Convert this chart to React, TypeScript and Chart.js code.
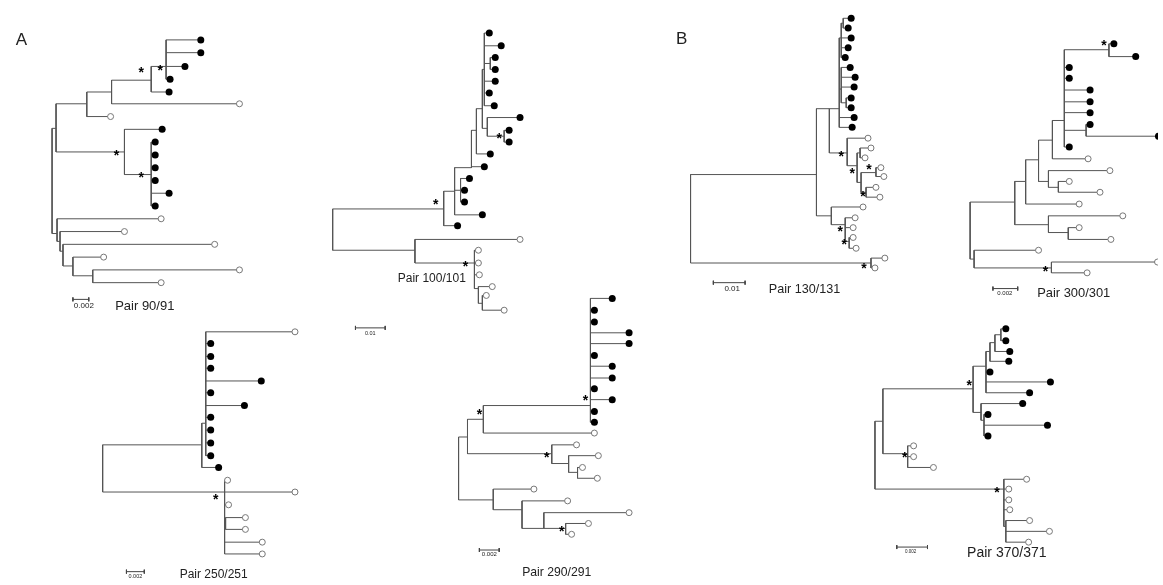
import { useEffect, useRef } from 'react';
import { Chart, registerables } from 'chart.js';
Chart.register(...registerables);

// Tree node: [x, y, children] for internal nodes, [x, y, 1|0] for leaves (1 = filled, 0 = open)
type TNode = [number, number, any];

const tree90: TNode = [47, 178, [
  [51, 125, [
    [82, 100, [
      [107, 88, [
        [147, 76, [
          [162, 62, [[197, 35, 1], [197, 48, 1], [181, 62, 1], [166, 75, 1]]],
          [165, 88, 1],
        ]],
        [236, 100, 0],
      ]],
      [106, 113, 0],
    ]],
    [120, 149, [
      [158, 126, 1],
      [147, 172, [[151, 139, 1], [151, 152, 1], [151, 165, 1], [151, 178, 1], [165, 191, 1], [151, 204, 1]]],
    ]],
  ]],
  [52, 232, [
    [157, 217, 0],
    [55, 240, [
      [120, 230, 0],
      [58, 250, [
        [211, 243, 0],
        [68, 265, [
          [99, 256, 0],
          [88, 275, [[236, 269, 0], [157, 282, 0]]],
        ]],
      ]],
    ]],
  ]],
]];

const tree100: TNode = [330, 228, [
  [442, 207, [
    [453, 189, [
      [470, 165, [
        [475, 127, [
          [481, 105, [
            [483, 65, [[488, 28, 1], [500, 41, 1], [489, 59, [[494, 53, 1], [494, 65, 1]]], [494, 77, 1], [488, 89, 1], [493, 102, 1]]],
            [486, 125, [[519, 114, 1], [503, 133, [[508, 127, 1], [508, 139, 1]]]]],
          ]],
          [489, 151, 1],
        ]],
        [483, 164, 1],
      ]],
      [459, 188, [[468, 176, 1], [463, 188, 1], [463, 200, 1]]],
      [481, 213, 1],
    ]],
    [456, 224, 1],
  ]],
  [413, 249, [
    [519, 238, 0],
    [473, 262, [
      [477, 249, 0], [477, 262, 0], [478, 274, 0],
      [477, 288, [[491, 286, 0], [481, 303, [[485, 295, 0], [503, 310, 0]]]]],
    ]],
  ]],
]];

const tree130: TNode = [691, 217, [
  [818, 172, [
    [831, 105, [
      [841, 105, [
        [843, 33, [[845, 18, [[853, 13, 1], [850, 23, 1]]], [853, 33, 1], [850, 43, 1], [847, 53, 1]]],
        [843, 85, [[852, 63, 1], [857, 73, 1], [856, 83, 1], [848, 99, [[853, 94, 1], [853, 104, 1]]]]],
        [856, 114, 1],
        [854, 124, 1],
      ]],
      [849, 150, [
        [870, 135, 0],
        [859, 163, [
          [862, 150, [[873, 145, 0], [867, 155, 0]]],
          [863, 180, [
            [878, 170, [[883, 165, 0], [886, 174, 0]]],
            [868, 190, [[878, 185, 0], [882, 195, 0]]],
          ]],
        ]],
      ]],
    ]],
    [833, 214, [
      [865, 205, 0],
      [847, 223, [
        [857, 216, 0],
        [855, 226, 0],
        [851, 240, [[855, 236, 0], [858, 247, 0]]],
      ]],
    ]],
  ]],
  [873, 262, [[887, 257, 0], [877, 267, 0]]],
]];

const tree300: TNode = [973, 229, [
  [1018, 200, [
    [1029, 179, [
      [1042, 157, [
        [1056, 137, [
          [1068, 117, [
            [1113, 45, [[1118, 39, 1], [1140, 52, 1]]],
            [1073, 63, 1], [1073, 74, 1], [1094, 86, 1], [1094, 98, 1], [1094, 109, 1],
            [1090, 127, [[1094, 121, 1], [1163, 133, 1]]],
            [1073, 144, 1],
          ]],
          [1092, 156, 0],
        ]],
        [1052, 179, [
          [1114, 168, 0],
          [1062, 185, [[1073, 179, 0], [1104, 190, 0]]],
        ]],
      ]],
      [1083, 202, 0],
    ]],
    [1052, 223, [
      [1127, 214, 0],
      [1072, 231, [[1083, 226, 0], [1115, 238, 0]]],
    ]],
  ]],
  [977, 258, [
    [1042, 249, 0],
    [1055, 267, [[1162, 261, 0], [1091, 272, 0]]],
  ]],
]];

const tree250: TNode = [98, 471, [
  [198, 447, [
    [202, 425, [
      [292, 332, 0], [207, 344, 1], [207, 357, 1], [207, 369, 1], [258, 382, 1], [207, 394, 1],
      [241, 407, 1], [207, 419, 1], [207, 432, 1], [207, 445, 1], [207, 458, 1],
    ]],
    [215, 470, 1],
  ]],
  [221, 495, [
    [224, 483, 0], [292, 495, 0], [225, 508, 0],
    [222, 527, [[242, 521, 0], [242, 533, 0]]],
    [259, 546, 0], [259, 558, 0],
  ]],
]];

const tree290: TNode = [457, 471, [
  [466, 439, [
    [482, 421, [
      [590, 407, [
        [612, 298, 1], [594, 310, 1], [594, 322, 1], [629, 333, 1], [629, 344, 1], [594, 356, 1],
        [612, 367, 1], [612, 379, 1], [594, 390, 1], [612, 401, 1], [594, 413, 1], [594, 424, 1],
      ]],
      [594, 435, 0],
    ]],
    [551, 456, [
      [576, 447, 0],
      [568, 466, [
        [598, 458, 0],
        [577, 475, [[582, 470, 0], [597, 481, 0]]],
      ]],
    ]],
  ]],
  [492, 503, [
    [533, 492, 0],
    [521, 513, [
      [567, 504, 0],
      [543, 532, [
        [629, 516, 0],
        [565, 532, [[588, 527, 0], [571, 538, 0]]],
      ]],
    ]],
  ]],
]];

const tree370: TNode = [877, 457, [
  [885, 423, [
    [976, 390, [
      [989, 367, [
        [993, 352, [
          [998, 343, [
            [1004, 335, [[1009, 329, 1], [1009, 341, 1]]],
            [1013, 352, 1],
          ]],
          [1012, 362, 1],
        ]],
        [993, 373, 1],
        [1054, 383, 1],
        [1033, 394, 1],
      ]],
      [984, 414, [
        [1026, 405, 1],
        [987, 422, [[991, 416, 1], [1051, 427, 1], [991, 438, 1]]],
      ]],
    ]],
    [910, 456, [[916, 448, 0], [916, 459, 0], [936, 470, 0]]],
  ]],
  [1007, 492, [
    [1030, 482, 0], [1012, 492, 0], [1012, 503, 0], [1013, 513, 0],
    [1009, 530, [[1033, 524, 0], [1053, 535, 0], [1032, 546, 0]]],
  ]],
]];

const trees: TNode[] = [tree90, tree100, tree130, tree300, tree250, tree290, tree370];

// Bootstrap-supported nodes (asterisks)
const starsX = [138, 157, 113, 138, 435, 499, 465, 844, 855, 872, 866, 843, 847, 867, 1109, 1050, 213, 479, 586, 547, 562, 973, 908, 1001];
const starsY = [68, 66, 153, 175, 202, 135, 265, 154, 171, 167, 194, 230, 243, 267, 41, 271, 502, 416, 402, 460, 535, 386, 460, 495];

// Pair labels
const pairLabels = ['Pair 90/91', 'Pair 100/101', 'Pair 130/131', 'Pair 300/301', 'Pair 250/251', 'Pair 290/291', 'Pair 370/371'];
const pairX = [140.5, 430, 806, 1077.5, 210, 556, 1010];
const pairY = [306, 278, 289, 293, 579, 576.5, 557.5];
const pairSize = [13, 12, 12.6, 12.9, 12, 12.2, 14];

// Scale bars
const scaleLabels = ['0.002', '0.01', '0.01', '0.002', '0.002', '0.002', '0.002'];
const scaleX1 = [68, 353, 714, 996, 122, 478, 899];
const scaleX2 = [84, 383, 746, 1021, 140, 498, 930];
const scaleY = [299, 328, 282, 288, 576, 554, 551];
const scaleLabelX = [79, 368, 733, 1008, 131, 488, 913];
const scaleLabelY = [306, 334, 288.5, 293, 581, 558.5, 555.5];
const scaleLabelSize = [8, 5.5, 8, 6, 5.5, 6, 4.5];

const panelLetters = ['A', 'B'];
const panelX = [16, 682];
const panelY = [35, 34];

type P = { x: number | null; y: number | null };

function collect(node: TNode, parentX: number | null, segs: P[], filled: P[], open: P[]) {
  const [x, y, c] = node;
  if (parentX !== null) {
    segs.push({ x: parentX, y }, { x, y }, { x: null, y: null });
  }
  if (Array.isArray(c)) {
    const ys = c.map((ch: TNode) => ch[1]).concat([y]);
    segs.push({ x, y: Math.min(...ys) }, { x, y: Math.max(...ys) }, { x: null, y: null });
    c.forEach((ch: TNode) => collect(ch, x, segs, filled, open));
  } else {
    (c ? filled : open).push({ x, y });
  }
}

const FONT = "'Liberation Sans', Arial, sans-serif";

const textPlugin = {
  id: 'treeText',
  afterDatasetsDraw(chart: any) {
    const { ctx } = chart;
    const sx = chart.scales.x;
    const sy = chart.scales.y;
    ctx.save();
    ctx.fillStyle = '#222';
    ctx.textAlign = 'center';
    ctx.textBaseline = 'middle';
    panelLetters.forEach((t, i) => {
      ctx.font = `17px ${FONT}`;
      ctx.fillText(t, sx.getPixelForValue(panelX[i]), sy.getPixelForValue(panelY[i]));
    });
    pairLabels.forEach((t, i) => {
      ctx.font = `${pairSize[i]}px ${FONT}`;
      ctx.fillText(t, sx.getPixelForValue(pairX[i]), sy.getPixelForValue(pairY[i]));
    });
    scaleLabels.forEach((t, i) => {
      ctx.font = `${scaleLabelSize[i]}px ${FONT}`;
      ctx.fillText(t, sx.getPixelForValue(scaleLabelX[i]), sy.getPixelForValue(scaleLabelY[i]));
    });
    ctx.fillStyle = '#000';
    ctx.textBaseline = 'alphabetic';
    const ss = 14;
    ctx.font = `bold ${ss}px ${FONT}`;
    starsX.forEach((x, i) => {
      ctx.fillText('*', sx.getPixelForValue(x) - 1, sy.getPixelForValue(starsY[i]) + ss * 0.33);
    });
    ctx.restore();
  },
};

export default function App() {
  const ref = useRef<HTMLCanvasElement>(null);
  useEffect(() => {
    if (!ref.current) return;
    const segs: P[] = [];
    const filled: P[] = [];
    const open: P[] = [];
    trees.forEach((t) => collect(t, null, segs, filled, open));
    const bars: P[] = [];
    scaleX1.forEach((x1, i) => {
      const x2 = scaleX2[i];
      const y = scaleY[i];
      bars.push({ x: x1, y }, { x: x2, y }, { x: null, y: null });
      bars.push({ x: x1, y: y - 2 }, { x: x1, y: y + 2 }, { x: null, y: null });
      bars.push({ x: x2, y: y - 2 }, { x: x2, y: y + 2 }, { x: null, y: null });
    });
    const chart = new Chart(ref.current, {
      type: 'scatter',
      data: {
        datasets: [
          {
            data: filled as any,
            pointRadius: 3.5,
            pointBackgroundColor: '#000',
            pointBorderColor: '#000',
            pointBorderWidth: 0,
            order: 0,
          },
          {
            data: open as any,
            pointRadius: 3,
            pointBackgroundColor: '#fff',
            pointBorderColor: '#777',
            pointBorderWidth: 1,
            order: 1,
          },
          {
            data: segs as any,
            showLine: true,
            spanGaps: false,
            borderColor: '#555',
            borderWidth: 1,
            pointRadius: 0,
            tension: 0,
            order: 2,
          },
          {
            data: bars as any,
            showLine: true,
            spanGaps: false,
            borderColor: '#444',
            borderWidth: 1,
            pointRadius: 0,
            tension: 0,
            order: 3,
          },
        ],
      },
      options: {
        animation: false,
        responsive: false,
        maintainAspectRatio: false,
        devicePixelRatio: 1,
        events: [],
        layout: { padding: 0 },
        plugins: { legend: { display: false }, tooltip: { enabled: false } },
        scales: {
          x: { type: 'linear', min: -0.5, max: 1162.5, display: false },
          y: { type: 'linear', min: -0.5, max: 584.5, reverse: true, display: false },
        },
      },
      plugins: [textPlugin],
    } as any);
    return () => chart.destroy();
  }, []);
  return (
    <div style={{ position: 'absolute', left: 0, top: 0, width: 1163, height: 585, background: '#fff' }}>
      <canvas ref={ref} width={1163} height={585} style={{ display: 'block', width: 1163, height: 585 }} />
    </div>
  );
}
